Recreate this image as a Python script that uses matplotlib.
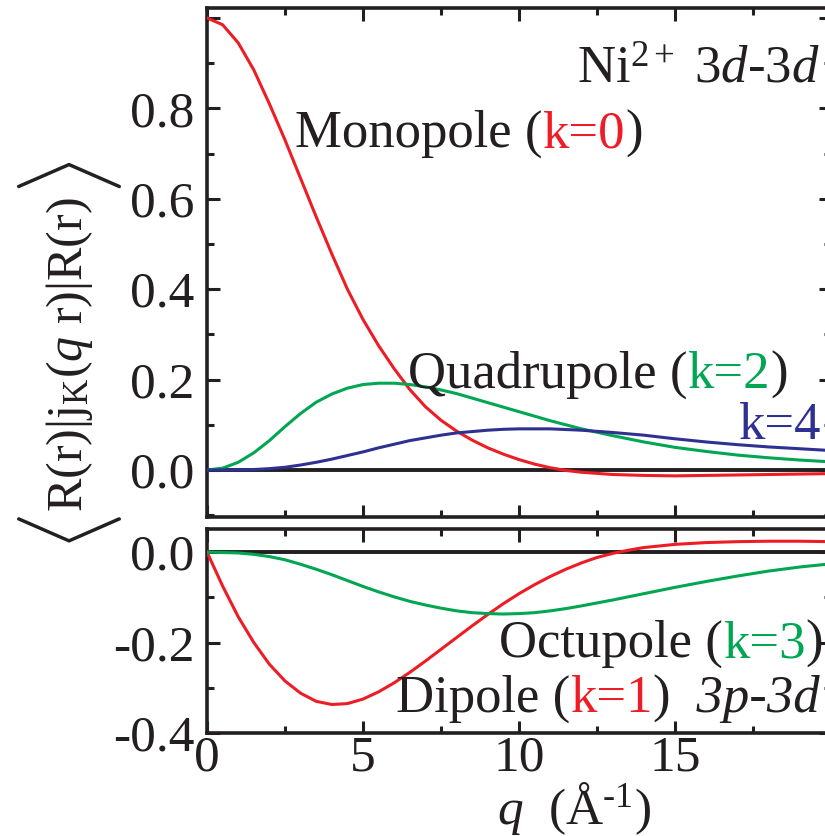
import matplotlib
matplotlib.use("Agg")
import matplotlib.pyplot as plt
from matplotlib.ticker import MultipleLocator, FixedLocator, FixedFormatter

plt.rcParams["font.family"] = ["Liberation Serif", "DejaVu Serif"]
plt.rcParams["mathtext.fontset"] = "custom"
plt.rcParams["mathtext.rm"] = "Liberation Serif"
plt.rcParams["mathtext.it"] = "Liberation Serif:italic"
plt.rcParams["mathtext.bf"] = "Liberation Serif:bold"
plt.rcParams["axes.unicode_minus"] = False

# ---- radial integrals <R|j_k(qr)|R> for Ni2+ ----
# 3d-3d (upper panel)
q_k0 = [0, 0.5, 1, 1.5, 2, 2.5, 3, 3.5, 4, 4.5, 5, 5.5, 6, 6.5, 7, 7.5, 8, 8.5,
        9, 9.5, 10, 10.5, 11, 11.5, 12, 13, 14, 15, 16, 17, 18, 19, 20]
j_k0 = [1.0, 0.985, 0.945, 0.885, 0.81, 0.73, 0.645, 0.56, 0.478, 0.4, 0.333,
        0.275, 0.224, 0.178, 0.14, 0.11, 0.086, 0.066, 0.049, 0.035, 0.023,
        0.013, 0.005, -0.001, -0.005, -0.010, -0.012, -0.013, -0.012, -0.011,
        -0.010, -0.009, -0.008]

q_k2 = [0, 0.5, 1, 1.5, 2, 2.5, 3, 3.5, 4, 4.5, 5, 5.5, 6, 6.5, 7, 7.5, 8, 8.5,
        9, 9.5, 10, 10.5, 11, 11.5, 12, 13, 14, 15, 16, 17, 18, 19, 20]
j_k2 = [0.0, 0.004, 0.017, 0.038, 0.065, 0.096, 0.125, 0.15, 0.168, 0.181,
        0.189, 0.192, 0.192, 0.189, 0.184, 0.177, 0.169, 0.159, 0.149, 0.139,
        0.129, 0.119, 0.109, 0.1, 0.091, 0.076, 0.062, 0.05, 0.041, 0.033,
        0.027, 0.022, 0.018]

q_k4 = [0, 1, 1.5, 2, 2.5, 3, 3.5, 4, 4.5, 5, 5.5, 6, 6.5, 7, 7.5, 8, 8.5, 9,
        9.5, 10, 11, 12, 13, 14, 15, 16, 17, 18, 19, 20]
j_k4 = [0.0, 0.0003, 0.001, 0.003, 0.006, 0.011, 0.017, 0.024, 0.032, 0.04,
        0.049, 0.057, 0.065, 0.071, 0.077, 0.082, 0.085, 0.088, 0.09, 0.091,
        0.091, 0.088, 0.083, 0.077, 0.069, 0.062, 0.056, 0.051, 0.047, 0.043]

# 3p-3d (lower panel)
q_k1 = [0, 0.5, 1, 1.5, 2, 2.5, 3, 3.5, 4, 4.5, 5, 5.5, 6, 6.5, 7, 7.5, 8, 8.5,
        9, 9.5, 10, 10.5, 11, 11.5, 12, 12.5, 13, 13.5, 14, 15, 16, 17, 18, 19, 20]
j_k1 = [0.0, -0.075, -0.143, -0.2, -0.248, -0.285, -0.312, -0.33, -0.337,
        -0.335, -0.325, -0.309, -0.289, -0.266, -0.241, -0.215, -0.189, -0.163,
        -0.138, -0.114, -0.092, -0.072, -0.054, -0.038, -0.024, -0.012, -0.003,
        0.004, 0.01, 0.017, 0.021, 0.023, 0.024, 0.024, 0.023]

q_k3 = [0, 1, 1.5, 2, 2.5, 3, 3.5, 4, 4.5, 5, 5.5, 6, 6.5, 7, 7.5, 8, 8.5, 9,
        9.5, 10, 10.5, 11, 11.5, 12, 13, 14, 15, 16, 17, 18, 19, 20]
j_k3 = [0.0, -0.002, -0.005, -0.01, -0.017, -0.027, -0.038, -0.05, -0.063,
        -0.076, -0.088, -0.099, -0.109, -0.117, -0.124, -0.13, -0.134, -0.136,
        -0.137, -0.136, -0.134, -0.13, -0.125, -0.119, -0.106, -0.092, -0.078,
        -0.065, -0.053, -0.042, -0.033, -0.026]

top_yticks = [0.0, 0.2, 0.4, 0.6, 0.8, 1.0]
top_yticklabels = ["0.0", "0.2", "0.4", "0.6", "0.8", ""]
bot_yticks = [-0.4, -0.2, 0.0]
bot_yticklabels = ["-0.4", "-0.2", "0.0"]
xticks = [0, 5, 10, 15, 20]
xticklabels = ["0", "5", "10", "15", ""]

RED = "#ee1c24"
GREEN = "#00a651"
BLUE = "#2e3192"
INK = "#231f20"
FS = 38
TICK_FS = 37
LW = 2.2

W, H = 825, 836
fig = plt.figure(figsize=(W / 100, H / 100), dpi=100)
fig.patch.set_facecolor("white")


def frac(x0, y0, x1, y1):
    return [x0 / W, 1 - y1 / H, (x1 - x0) / W, (y1 - y0) / H]


ax_top = fig.add_axes(frac(207, 8, 831, 517))
ax_bot = fig.add_axes(frac(207, 529, 831, 733))


def style_axes(ax):
    for sp in ax.spines.values():
        sp.set_linewidth(2.6)
        sp.set_color(INK)
    ax.tick_params(which="both", direction="in", top=True, right=True,
                   width=2.2, color=INK, labelsize=TICK_FS, labelcolor=INK)
    ax.tick_params(which="major", length=9, pad=9)
    ax.tick_params(which="minor", length=5)
    ax.set_xlim(0, 20)
    ax.xaxis.set_major_locator(FixedLocator(xticks))
    ax.xaxis.set_minor_locator(MultipleLocator(2.5))
    ax.yaxis.set_minor_locator(MultipleLocator(0.1))
    ax.axhline(0, color=INK, lw=2.8, zorder=1)


style_axes(ax_top)
style_axes(ax_bot)

ax_top.set_ylim(-0.104, 1.022)
ax_top.yaxis.set_major_locator(FixedLocator(top_yticks))
ax_top.yaxis.set_major_formatter(FixedFormatter(top_yticklabels))
ax_top.tick_params(axis="x", labelbottom=False)

ax_bot.set_ylim(-0.4, 0.051)
ax_bot.yaxis.set_major_locator(FixedLocator(bot_yticks))
ax_bot.yaxis.set_major_formatter(FixedFormatter(bot_yticklabels))
ax_bot.xaxis.set_major_formatter(FixedFormatter(xticklabels))
ax_bot.tick_params(axis="x", pad=1.5)

ax_top.plot(q_k0, j_k0, color=RED, lw=LW, zorder=3)
ax_top.plot(q_k2, j_k2, color=GREEN, lw=LW, zorder=3)
ax_top.plot(q_k4, j_k4, color=BLUE, lw=LW, zorder=3)
ax_bot.plot(q_k1, j_k1, color=RED, lw=LW, zorder=3)
ax_bot.plot(q_k3, j_k3, color=GREEN, lw=LW, zorder=3)


def multicolor(ax, x, y, pieces, fs=FS):
    """Write consecutive text pieces with their own colours/styles on one baseline."""
    prev = None
    for s, color, style in pieces:
        if prev is None:
            prev = ax.text(x, y, s, color=color, style=style, fontsize=fs,
                           ha="left", va="baseline", clip_on=False, zorder=5)
        else:
            prev = ax.annotate(s, xy=(1, 0), xycoords=prev, color=color,
                               style=style, fontsize=fs, ha="left", va="bottom",
                               annotation_clip=False, zorder=5)
    return prev


multicolor(ax_top, 2.82, 0.715,
           [("Monopole (", INK, "normal"), ("k=0", RED, "normal"), (")", INK, "normal")])
multicolor(ax_top, 6.44, 0.181,
           [("Quadrupole (", INK, "normal"), ("k=2", GREEN, "normal"), (")", INK, "normal")])
ax_top.text(17.02, 0.069, "k=4", color=BLUE, fontsize=FS, ha="left", va="baseline")
ax_top.text(11.86, 0.856, r"Ni$^{2+}$ $3d$-$3d$", color=INK, fontsize=FS,
            ha="left", va="baseline")

multicolor(ax_bot, 9.35, -0.232,
           [("Octupole (", INK, "normal"), ("k=3", GREEN, "normal"), (")", INK, "normal")])
multicolor(ax_bot, 6.05, -0.354,
           [("Dipole (", INK, "normal"), ("k=1", RED, "normal"), (")", INK, "normal"),
            ("  3p-3d", INK, "italic")])

# x-axis title
fig.text(574 / W, 1 - 824 / H, r"$q$  (Å$^{\text{-1}}$)", fontsize=37, color=INK,
         ha="center", va="baseline")

# y-axis title with large angle brackets
fig.text(70 / W, 1 - 355 / H, r"R(r)|j$_{\rm K}$($q$ r)|R(r)", rotation=90,
         fontsize=36, color=INK, ha="center", va="center")
fig.text(70 / W, 1 - 533 / H, r"$\langle$", rotation=90, fontsize=62,
         color=INK, ha="center", va="center")
fig.text(70 / W, 1 - 178 / H, r"$\rangle$", rotation=90, fontsize=62,
         color=INK, ha="center", va="center")

fig.savefig("out.png", dpi=100, facecolor="white")
